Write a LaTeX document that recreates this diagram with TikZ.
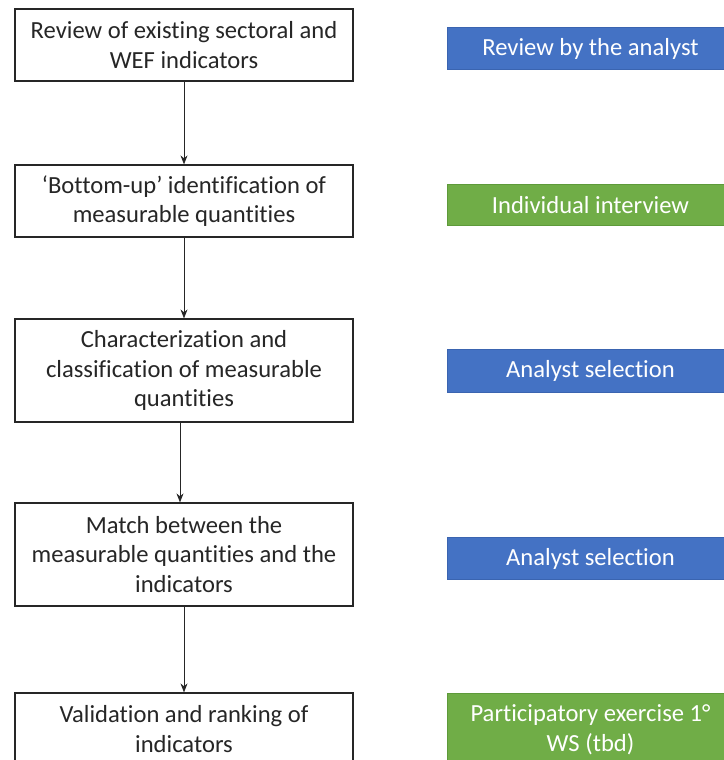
\documentclass[tikz,border=0pt]{standalone}
\usepackage{fontspec}
\setmainfont{Carlito}[Ligatures={NoCommon}]
\usetikzlibrary{arrows.meta}
\definecolor{stepblue}{HTML}{4472C4}
\definecolor{stepblueline}{HTML}{3A64B0}
\definecolor{stepgreen}{HTML}{70AD47}
\definecolor{stepgreenline}{HTML}{5E9A3A}
\begin{document}
\begin{tikzpicture}[x=1pt,y=-1pt,
  font=\fontsize{24.6}{29.5}\selectfont,
  stepbox/.style={draw=black!85,line width=1.2pt,fill=white,align=center,
    minimum width=338pt,inner sep=0pt,text=black!85},
  methodbox/.style={line width=1pt,align=center,minimum width=286pt,
    inner sep=0pt,anchor=north west,text=white},
  bluebox/.style={methodbox,draw=stepblueline,fill=stepblue},
  greenbox/.style={methodbox,draw=stepgreenline,fill=stepgreen},
  flow/.style={draw=black!85,line width=0.9pt,-{Stealth[length=9pt,width=7pt]}}]
\useasboundingbox (0,0) rectangle (723,760);

% process steps
\node[stepbox,minimum height=72pt] (s1) at (184,45)
  {Review of existing sectoral and\\WEF indicators};
\node[stepbox,minimum height=72pt] (s2) at (184,201)
  {‘Bottom-up’ identification of\\measurable quantities};
\node[stepbox,minimum height=103pt] (s3) at (184,370.5)
  {Characterization and\\classification of measurable\\quantities};
\node[stepbox,minimum height=103pt] (s4) at (184,554.5)
  {Match between the\\measurable quantities and the\\indicators};
\node[stepbox,minimum height=72pt] (s5) at (184,729)
  {Validation and ranking of\\indicators};

% connectors between steps
\draw[flow] (s1) -- (s2);
\draw[flow] (s2) -- (s3);
\draw[flow] ([xshift=-4pt]s3.south) -- ([xshift=-4pt]s4.north);
\draw[flow] (s4) -- (s5);

% method used at each step
\node[bluebox,minimum height=42pt] (m1) at (447,27) {Review by the analyst};
\node[greenbox,minimum height=41pt] (m2) at (447,184) {Individual interview};
\node[bluebox,minimum height=43pt] (m3) at (447,349) {Analyst selection};
\node[bluebox,minimum height=42pt] (m4) at (447,537) {Analyst selection};
\node[greenbox,minimum height=72pt] (m5) at (447,693)
  {Participatory exercise 1°\\WS (tbd)};
\end{tikzpicture}
\end{document}
